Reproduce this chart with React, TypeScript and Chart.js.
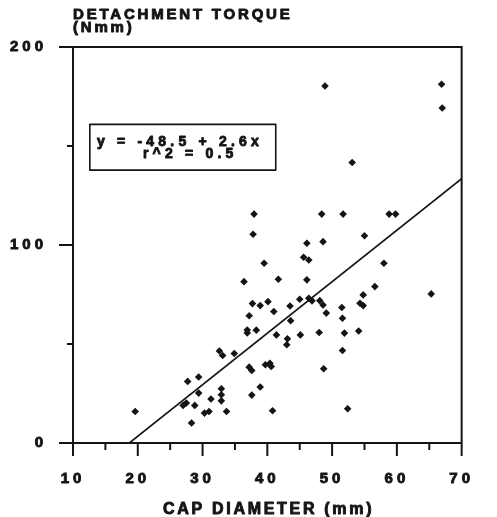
import React, { useEffect, useRef } from 'react';
import { Chart, registerables } from 'chart.js';

Chart.register(...registerables);

// Cap diameter (mm) of each specimen
const capDiameter = [
  19.6, 27.0, 27.5, 27.7, 28.3, 28.8, 29.4, 29.4, 30.3, 31.0,
  31.3, 32.6, 33.1, 32.9, 32.9, 32.9, 33.7, 34.9, 36.4, 37.7,
  38.9, 37.2, 36.9, 36.9, 38.3, 37.2, 37.6, 38.9, 37.6, 37.95,
  37.8, 39.5, 41.7, 40.1, 41.0, 43.5, 43.6, 45.0, 48.9, 66.9,
  67.0, 53.1, 48.4, 51.7, 58.8, 59.8, 55.0, 46.1, 48.6, 45.6,
  46.4, 58.0, 46.1, 56.6, 54.8, 46.4, 46.9, 48.1, 48.6, 54.3,
  54.8, 51.5, 49.1, 51.6, 45.1, 41.4, 43.1, 43.0, 48.0, 51.9,
  51.6, 54.1, 48.7, 52.4, 39.7, 40.4, 40.6, 40.8, 65.3,
];

// Detachment torque (Nmm) of each specimen
const detachmentTorque = [
  15.9, 19.0, 20.2, 31.1, 10.1, 19.0, 33.3, 25.2, 15.1, 15.9,
  22.2, 46.5, 44.2, 27.4, 24.4, 21.3, 15.9, 45.2, 81.5, 70.4,
  69.4, 64.3, 57.1, 55.6, 57.0, 38.3, 36.6, 28.3, 24.2, 115.6,
  105.4, 90.8, 82.7, 71.4, 66.4, 69.2, 61.8, 72.6, 180.3, 181.2,
  169.2, 141.7, 115.6, 115.6, 115.6, 115.6, 104.7, 100.9, 101.7, 93.8,
  92.4, 90.8, 82.4, 79.0, 74.8, 73.1, 71.8, 71.9, 69.7, 70.6,
  69.4, 68.4, 65.6, 63.0, 54.6, 54.6, 52.6, 49.6, 55.8, 55.5,
  46.7, 56.6, 37.5, 17.3, 39.5, 40.3, 38.6, 16.3, 75.3,
];

// Regression line end points
const fitLineX = [18.7, 70];
const fitLineY = [0, 133.5];

const xMajorTicks = [10, 20, 30, 40, 50, 60, 70];
const xMinorTicks = [15, 25, 35, 45, 55, 65];
const yMajorTicks = [0, 100, 200];
const yMinorTicks = [50, 150];

const chartTitle = ['DETACHMENT TORQUE', '(Nmm)'];
const xAxisTitle = 'CAP DIAMETER (mm)';
const equationLines = ['y = -48.5 + 2.6x', 'r^2 = 0.5'];

const INK = '#141414';
const FONT = '"Liberation Sans", Arial, Helvetica, sans-serif';

function heavyText(ctx: any, text: string, x: number, y: number) {
  ctx.fillText(text, x, y);
  ctx.strokeText(text, x, y);
}

const framePlugin = {
  id: 'framePlugin',
  beforeDraw(chart: any) {
    (chart.ctx as any).letterSpacing = '4px';
  },
  afterDraw(chart: any) {
    const ctx = chart.ctx as any;
    const { left, right, top, bottom } = chart.chartArea;
    const xs = chart.scales.x;
    const ys = chart.scales.y;
    ctx.save();
    ctx.strokeStyle = INK;
    ctx.fillStyle = INK;
    ctx.lineWidth = 2;
    ctx.lineCap = 'square';
    // frame
    ctx.beginPath();
    ctx.moveTo(left, top);
    ctx.lineTo(right, top);
    ctx.lineTo(right, bottom);
    ctx.lineTo(left, bottom);
    ctx.closePath();
    ctx.stroke();
    ctx.lineCap = 'butt';
    // ticks
    ctx.beginPath();
    xMajorTicks.forEach((v) => {
      const p = xs.getPixelForValue(v);
      ctx.moveTo(p, bottom);
      ctx.lineTo(p, bottom + 13);
    });
    xMinorTicks.forEach((v) => {
      const p = xs.getPixelForValue(v);
      ctx.moveTo(p, bottom);
      ctx.lineTo(p, bottom + 7);
    });
    yMajorTicks.forEach((v) => {
      const p = ys.getPixelForValue(v);
      ctx.moveTo(left, p);
      ctx.lineTo(left - 14, p);
    });
    yMinorTicks.forEach((v) => {
      const p = ys.getPixelForValue(v);
      ctx.moveTo(left, p);
      ctx.lineTo(left - 6, p);
    });
    ctx.stroke();

    ctx.lineWidth = 0.9;
    ctx.lineJoin = 'round';

    // chart title
    ctx.textAlign = 'left';
    ctx.textBaseline = 'alphabetic';
    ctx.font = `bold 15px ${FONT}`;
    ctx.letterSpacing = '2.8px';
    heavyText(ctx, chartTitle[0], left, 18.5);
    heavyText(ctx, chartTitle[1], left, 31.5);

    // x axis title
    ctx.font = `bold 16px ${FONT}`;
    ctx.letterSpacing = '2.7px';
    ctx.textAlign = 'center';
    heavyText(ctx, xAxisTitle, (left + right) / 2 + 1.3, 514);

    // equation box
    const bx0 = xs.getPixelForValue(12.6);
    const bx1 = xs.getPixelForValue(41.3);
    const by0 = ys.getPixelForValue(160.9);
    const by1 = ys.getPixelForValue(137.8);
    ctx.lineWidth = 1.6;
    ctx.strokeRect(bx0, by0, bx1 - bx0, by1 - by0);
    ctx.lineWidth = 0.9;
    ctx.font = `bold 14px ${FONT}`;
    ctx.letterSpacing = '4.2px';
    ctx.textAlign = 'left';
    heavyText(ctx, equationLines[0], xs.getPixelForValue(13.7), ys.getPixelForValue(149.9));
    heavyText(ctx, equationLines[1], xs.getPixelForValue(20.8), ys.getPixelForValue(143.7));
    ctx.letterSpacing = '0px';
    ctx.restore();
  },
};

export default function App() {
  const canvasRef = useRef<HTMLCanvasElement | null>(null);

  useEffect(() => {
    if (!canvasRef.current) return;
    const points = capDiameter.map((x, i) => ({ x, y: detachmentTorque[i] }));
    const fit = fitLineX.map((x, i) => ({ x, y: fitLineY[i] }));
    const tickFont = { family: FONT, size: 15, weight: 'bold' as const };
    const chart = new Chart(canvasRef.current, {
      type: 'scatter',
      data: {
        datasets: [
          {
            label: 'specimens',
            data: points,
            pointStyle: 'rectRot',
            pointRadius: 3.8,
            backgroundColor: INK,
            borderColor: INK,
            borderWidth: 0,
          },
          {
            label: 'fit',
            data: fit,
            showLine: true,
            borderColor: INK,
            borderWidth: 1.6,
            pointRadius: 0,
          } as any,
        ],
      },
      options: {
        responsive: false,
        animation: false,
        events: [],
        layout: { padding: { top: 47, right: 19, bottom: 0, left: 0 } },
        plugins: {
          legend: { display: false },
          tooltip: { enabled: false },
          title: { display: false },
        },
        scales: {
          x: {
            type: 'linear',
            min: 10,
            max: 70,
            grid: { display: false, drawTicks: false },
            border: { display: false },
            ticks: {
              stepSize: 10,
              autoSkip: false,
              maxRotation: 0,
              padding: 27,
              color: INK,
              textStrokeColor: INK,
              textStrokeWidth: 0.9,
              font: tickFont,
            } as any,
            afterFit: (scale: any) => {
              scale.height = 74;
            },
          },
          y: {
            type: 'linear',
            min: 0,
            max: 200,
            grid: { display: false, drawTicks: false },
            border: { display: false },
            ticks: {
              stepSize: 100,
              autoSkip: false,
              padding: 26,
              color: INK,
              textStrokeColor: INK,
              textStrokeWidth: 0.9,
              font: tickFont,
            } as any,
            afterFit: (scale: any) => {
              scale.width = 73;
            },
          },
        },
      },
      plugins: [framePlugin],
    });
    return () => chart.destroy();
  }, []);

  return (
    <div style={{ position: 'absolute', left: 0, top: 0, width: 497, height: 517, background: '#fff' }}>
      <canvas ref={canvasRef} width={497} height={517} />
    </div>
  );
}
